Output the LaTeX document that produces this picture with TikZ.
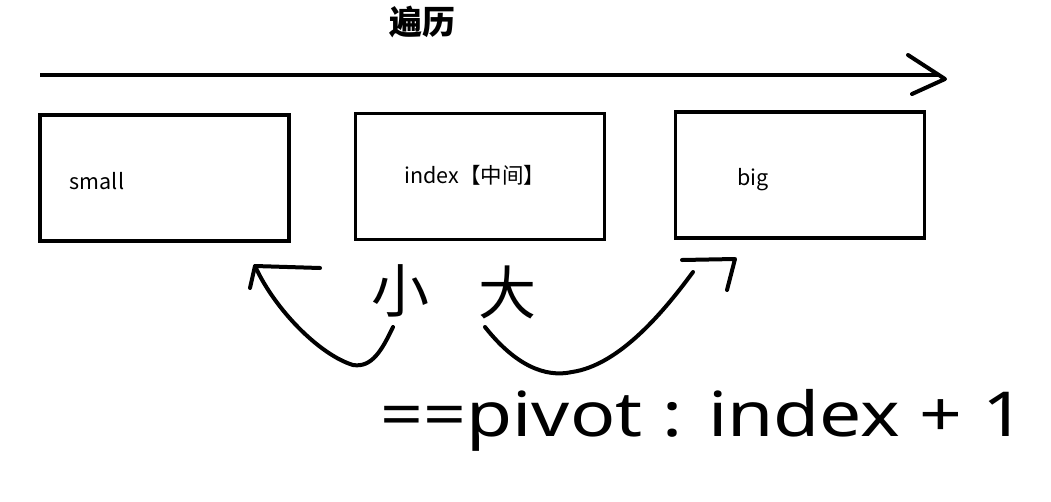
\documentclass[tikz,border=0pt]{standalone}
\usepackage{fontspec}
\setmainfont{Noto Sans}
\newfontfamily\cjk{Noto Sans CJK SC}
\usetikzlibrary{positioning}
\tikzset{
  arraybox/.style={draw=black,line width=3.5pt,minimum width=249pt,minimum height=126pt,inner sep=0pt},
  boxlabel/.style={font=\cjk\fontsize{21.5}{24}\selectfont,inner sep=0pt},
  handstroke/.style={line width=4pt,line cap=round,line join=round},
  handchar/.style={font=\cjk\fontsize{58}{60}\selectfont,inner sep=0pt},
  handnote/.style={font=\fontsize{62}{66}\selectfont,inner sep=0pt}
}
\begin{document}
\begin{tikzpicture}[x=1pt,y=-1pt]
  \useasboundingbox (0,0) rectangle (1051,501);
  % title and traversal direction
  \node[font=\cjk\fontsize{33}{36}\selectfont\bfseries,inner sep=0pt] (title) at (422,22) {遍历};
  \coordinate (tstart) at (40,75);
  \coordinate (tend) at (938,75);
  \coordinate (ttip) at (945,79);
  \draw[line width=4pt] (tstart) -- (tend);
  \draw[handstroke] (ttip) ++(-37,-24) -- (ttip) -- ++(-33,15);
  % the three parts
  \node[arraybox] (small) at (164.5,178) {};
  \node[arraybox] (index) at (480,176.5) {};
  \node[arraybox] (big) at (800,175) {};
  \node[boxlabel] (smalltext) at (97,181) {small};
  \node[boxlabel] (indextext) at (475,175) {index【中间】};
  \node[boxlabel] (bigtext) at (753,180) {big};
  % handwritten notes
  \node[handchar] (xiao) at (400,291) {小};
  \node[handchar] (da) at (507,292) {大};
  \node[handnote] (pivot) at (703,420) {\scalebox{1.21}[1]{==pivot : index + 1}};
  % left arrow: smaller values go to the left
  \coordinate (lstart) at (393,327);
  \coordinate (ltip) at (255,266);
  \draw[handstroke] (lstart) .. controls (382,350) and (372,368) .. (353,365)
    .. controls (320,355) and (275,310) .. (ltip);
  \draw[handstroke] (ltip) ++(65,2) -- (ltip) -- ++(-5,22);
  % right arrow: bigger values go to the right
  \coordinate (rstart) at (485,327);
  \coordinate (rtip) at (735,259);
  \draw[handstroke] (rstart) .. controls (515,365) and (545,378) .. (572,372)
    .. controls (620,365) and (665,310) .. (693,272);
  \draw[handstroke] (rtip) ++(-53,1) -- (rtip) -- ++(-8,31);
\end{tikzpicture}
\end{document}
